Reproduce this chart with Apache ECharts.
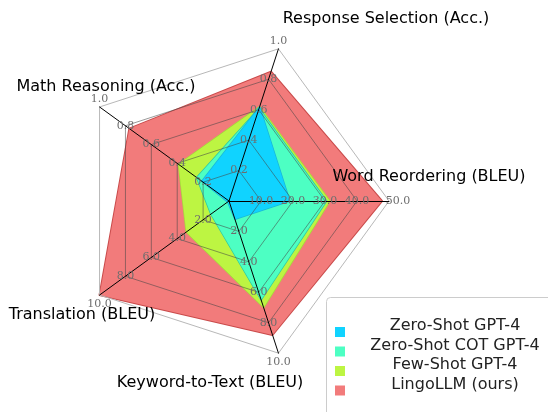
<!DOCTYPE html>
<html>
<head>
<meta charset="utf-8">
<script src="https://cdn.jsdelivr.net/npm/echarts@6/dist/echarts.min.js"></script>
<style>
html,body{margin:0;padding:0;background:#fff;}
#chart{width:548px;height:412px;}
</style>
</head>
<body>
<div id="chart"></div>
<script>
// Indicators (counter-clockwise, starting at upper right)
var indicatorNames = ['Response Selection (Acc.)', 'Math Reasoning (Acc.)', 'Translation (BLEU)', 'Keyword-to-Text (BLEU)', 'Word Reordering (BLEU)'];
var indicatorMax = [1.0, 1.0, 10, 10, 50];

var seriesNames = ['Zero-Shot GPT-4', 'Zero-Shot COT GPT-4', 'Few-Shot GPT-4', 'LingoLLM (ours)'];
var zeroShot = [0.62, 0.21, 0.1, 1.2, 19];
var zeroShotCot = [0.61, 0.25, 1.4, 6.5, 30.5];
var fewShot = [0.62, 0.39, 3.3, 7.0, 31.5];
var lingoLLM = [0.85, 0.77, 10.0, 8.8, 47.8];

var fills = ['#10d3ff', '#4dffc3', '#bdf542', '#f27b7b'];
var edges = ['#1ab8d8', '#2cc9a4', '#a5dc3a', '#c94a4a'];
var edgeW = [1.5, 1.5, 1.5, 2];

// axis-name placement (layout only)
var namePos = [[386, 19], [106, 87], [82, 315], [210, 383], [429, 177]];

var chart = echarts.init(document.getElementById('chart'), null, {renderer: 'canvas'});

var values = [zeroShot, zeroShotCot, fewShot, lingoLLM];
var series = [];
for (var i = values.length - 1; i >= 0; i--) {
  series.push({
    type: 'radar',
    name: seriesNames[i],
    z: 1,
    symbol: 'none',
    lineStyle: {color: edges[i], width: edgeW[i]},
    itemStyle: {color: fills[i]},
    areaStyle: {color: fills[i], opacity: 1},
    data: [{value: values[i], name: seriesNames[i]}]
  });
}

var graphics = [{
  type: 'rect',
  shape: {x: 326.5, y: 297.5, width: 260, height: 150, r: 4},
  style: {fill: 'none', stroke: '#cccccc', lineWidth: 1},
  z: 0
}];
indicatorNames.forEach(function (n, k) {
  graphics.push({
    type: 'text',
    x: namePos[k][0],
    y: namePos[k][1],
    z: 10,
    style: {text: n, fill: '#000', font: '16px "DejaVu Sans"', align: 'center', verticalAlign: 'middle'}
  });
});

var option = {
  animation: false,
  backgroundColor: '#fff',
  radar: {
    center: [229, 201],
    radius: 160,
    startAngle: 72,
    shape: 'polygon',
    splitNumber: 5,
    z: 3,
    indicator: indicatorNames.map(function (n, k) { return {name: n, min: 0, max: indicatorMax[k]}; }),
    axisName: {show: false},
    axisLine: {lineStyle: {color: '#000', width: 1}},
    splitLine: {lineStyle: {color: ['rgba(70,70,70,0.55)', 'rgba(70,70,70,0.55)', 'rgba(70,70,70,0.55)', 'rgba(70,70,70,0.55)', 'rgba(70,70,70,0.55)', '#b8b8b8'], width: 1}},
    splitArea: {show: false},
    axisTick: {show: false},
    axisLabel: {
      show: true,
      showMinLabel: false,
      margin: 0,
      align: 'center',
      verticalAlign: 'middle',
      color: '#6e6e6e',
      fontFamily: 'DejaVu Serif',
      fontSize: 11,
      formatter: function (v, idx) {
        var s = Number(v).toFixed(1);
        if (v === 1) return '{up|' + s + '}';
        if (v === 50) return '{rt|' + s + '}';
        if (v === 10 && idx >= 4) return '{dn|' + s + '}';
        return '{n|' + s + '}';
      },
      rich: {
        n: {},
        up: {padding: [0, 0, 16, 0]},
        dn: {padding: [18, 0, 0, 0]},
        rt: {padding: [0, 0, 0, 18]}
      }
    }
  },
  legend: {
    orient: 'vertical',
    left: 330,
    top: 313,
    height: 160,
    icon: 'rect',
    itemWidth: 10,
    itemHeight: 10,
    itemGap: -8.5,
    data: seriesNames,
    formatter: function (n) { return '{t|' + n + '}'; },
    textStyle: {
      rich: {
        t: {width: 210, align: 'center', fontFamily: 'DejaVu Sans', fontSize: 16, color: '#222', lineHeight: 16, padding: [0, 0, 12, 0]}
      }
    }
  },
  graphic: graphics,
  series: series
};
chart.setOption(option);
</script>
</body>
</html>
